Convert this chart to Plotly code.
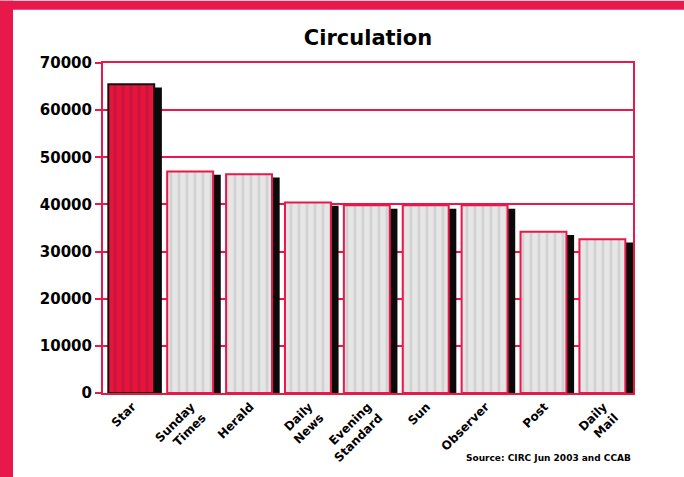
import plotly.graph_objects as go

categories = ["Star", "Sunday<br>Times", "Herald", "Daily<br>News", "Evening<br>Standard",
              "Sun", "Observer", "Post", "Daily<br>Mail"]
circulation = [65500, 47000, 46400, 40400, 39800, 39800, 39800, 34200, 32600]
y_ticks = [0, 10000, 20000, 30000, 40000, 50000, 60000, 70000]
title_text = "Circulation"
source_text = "Source: CIRC Jun 2003 and CCAB"

RED = "#e8194a"
FONT = "DejaVu Sans"

shadow_drop = 700
fig = go.Figure()
fig.add_trace(go.Bar(
    x=categories, y=[v - shadow_drop for v in circulation],
    width=0.78, offset=-0.28,
    marker=dict(color="#0a0a0a", line=dict(width=0)),
    hoverinfo="skip", showlegend=False,
))
# highlighted first bar
fig.add_trace(go.Bar(
    x=categories[:1], y=circulation[:1],
    width=0.78, offset=-0.41,
    marker=dict(color="#e8143c",
                line=dict(color="#111111", width=2),
                pattern=dict(shape="|", fgcolor="#c41640", fgopacity=1,
                             size=8, solidity=0.35, fillmode="overlay")),
    showlegend=False,
))
# remaining bars
fig.add_trace(go.Bar(
    x=categories[1:], y=circulation[1:],
    width=0.78, offset=-0.41,
    marker=dict(color="#e6e6e6",
                line=dict(color=RED, width=2),
                pattern=dict(shape="|", fgcolor="#d2d2d2", fgopacity=1,
                             size=8, solidity=0.35, fillmode="overlay")),
    showlegend=False,
))

fig.update_layout(
    width=684, height=477,
    margin=dict(l=103, r=51, t=63, b=80),
    paper_bgcolor="white", plot_bgcolor="white",
    barmode="overlay",
    font=dict(family=FONT, color="black"),
    title=dict(text="<b>" + title_text + "</b>", x=0.5, xref="paper",
               y=1 - 38 / 477, yanchor="middle", font=dict(size=21, family=FONT)),
    xaxis=dict(
        categoryorder="array", categoryarray=categories,
        tickangle=-45, tickfont=dict(size=12, family=FONT, weight="bold"),
        showline=True, linecolor=RED, linewidth=2, mirror=True,
        ticks="", showgrid=False, range=[-0.5, len(categories) - 0.5],
    ),
    yaxis=dict(
        range=[0, 70000], tickvals=y_ticks, tickformat="d",
        tickfont=dict(size=15, family=FONT, weight="bold"),
        showline=True, linecolor=RED, linewidth=2, mirror=True,
        ticks="outside", ticklen=6, tickcolor=RED, tickwidth=2,
        showgrid=True, gridcolor=RED, gridwidth=2,
        zeroline=False,
    ),
    shapes=[
        dict(type="rect", xref="paper", yref="paper",
             x0=-103 / 530, x1=(13 - 103) / 530, y0=-0.35, y1=397 / 334,
             fillcolor=RED, line=dict(width=0), layer="below"),
        dict(type="rect", xref="paper", yref="paper",
             x0=-103 / 530, x1=581 / 530, y0=(397 - 9) / 334, y1=397 / 334,
             fillcolor=RED, line=dict(width=0), layer="below"),
    ],
    annotations=[
        dict(text="<b>" + source_text + "</b>", xref="paper", yref="paper",
             x=1, y=-66 / 334, xanchor="right", yanchor="middle", showarrow=False,
             font=dict(size=9, family=FONT, color="black")),
    ],
)

fig.write_html("out.html", config={"displayModeBar": False},
               post_script="document.body.style.margin='0px';")
